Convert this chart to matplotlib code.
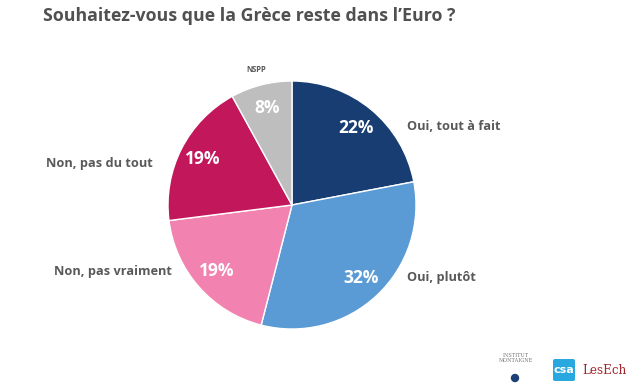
import matplotlib
matplotlib.use("Agg")
import matplotlib.pyplot as plt
from matplotlib.patches import FancyBboxPatch, Circle

title = "Souhaitez-vous que la Grèce reste dans l’Euro ?"
categories = ["Oui, tout à fait", "Oui, plutôt", "Non, pas vraiment", "Non, pas du tout", "NSPP"]
values = [22, 32, 19, 19, 8]
colors = ["#173D72", "#5B9BD5", "#F283B0", "#C2185B", "#BEBEBE"]

W, H = 630, 390
fig = plt.figure(figsize=(6.3, 3.9), dpi=100)
fig.patch.set_facecolor("white")
ax = fig.add_axes([0, 0, 1, 1])
ax.set_xlim(0, W)
ax.set_ylim(H, 0)
ax.axis("off")

pax = fig.add_axes([0, 0, 1, 1])
cx, cy, r = 292, H - 205, 124
wedges, texts, autotexts = pax.pie(
    values, colors=colors, startangle=90, counterclock=False,
    center=(cx, cy), radius=r, autopct="%d%%", pctdistance=0.81,
    wedgeprops=dict(edgecolor="white", linewidth=1.0), frame=True,
    textprops=dict(color="white", fontsize=12.5, fontweight="bold", family="Open Sans"))
pax.set_xlim(0, W)
pax.set_ylim(0, H)
pax.set_aspect("auto")
pax.axis("off")

lab_font = dict(family="Open Sans", fontweight="bold", color="#595959", fontsize=9.2)
label_pos = [(407, 126, "left"), (407, 277, "left"), (172, 271, "right"), (153, 163, "right")]
for (x, y, ha), name in zip(label_pos, categories[:4]):
    ax.text(x, y, name, ha=ha, va="center", **lab_font)
ax.text(256, 70, categories[4], ha="center", va="center", family="Open Sans",
        fontweight="bold", color="#595959", fontsize=5.5)

ax.text(43, 16, title, ha="left", va="center", family="Open Sans",
        fontweight="bold", color="#505050", fontsize=12.8)

# logos (approximate, as text)
ax.text(516, 358, "INSTITUT\nMONTAIGNE", ha="center", va="center", family="DejaVu Serif",
        fontsize=3.6, color="#777777", linespacing=1.1)
ax.add_patch(Circle((515, 378), 3.5, color="#1C3F75"))
ax.add_patch(FancyBboxPatch((553, 359), 22, 22, boxstyle="round,pad=0,rounding_size=2",
                            facecolor="#29A8E0", edgecolor="none"))
ax.text(564, 370, "csa", ha="center", va="center", color="white", fontsize=8,
        family="DejaVu Sans", fontweight="bold")
ax.text(582, 370, "LesEch", ha="left", va="center", color="#A0262E", fontsize=8.6,
        family="DejaVu Serif")

fig.savefig("out.png", dpi=100, facecolor="white")
